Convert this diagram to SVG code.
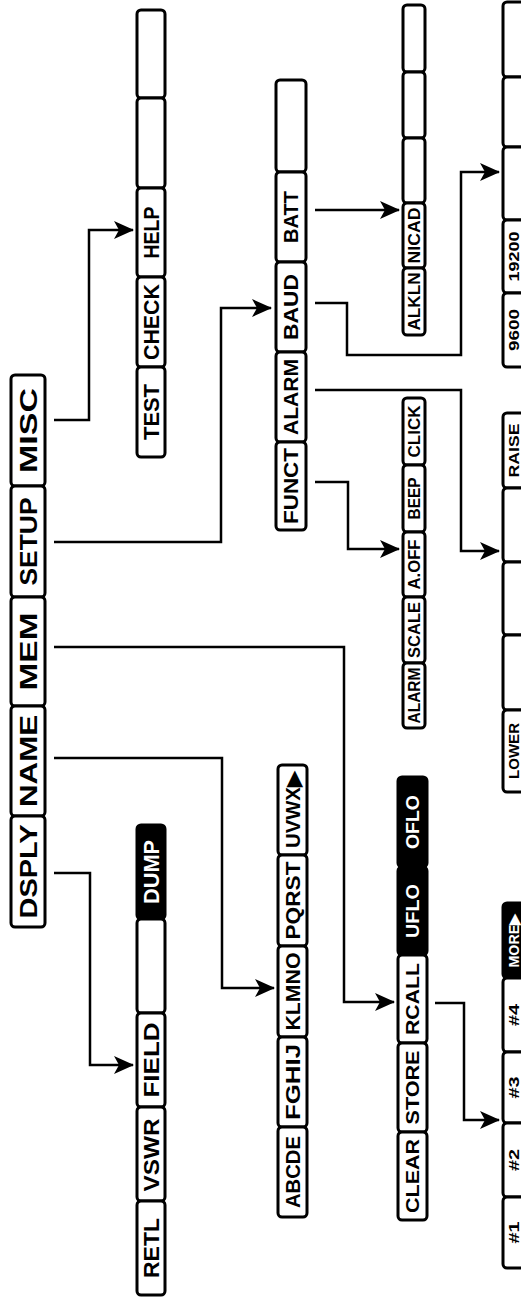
<svg xmlns="http://www.w3.org/2000/svg" width="521" height="1301" viewBox="0 0 521 1301">
<style>
.b{fill:#fff;stroke:#000;stroke-width:3}
.k{fill:#000;stroke:#000;stroke-width:3}
.t{font-family:"Liberation Sans",Arial,sans-serif;font-weight:bold;fill:#000;text-anchor:middle;dominant-baseline:central}
.w{fill:#fff}
.f1{font-size:24px}.f2{font-size:22px}.f3{font-size:20px}.f4{font-size:17px}.f5{font-size:19px}.f6{font-size:15px}
.c{fill:none;stroke:#000;stroke-width:2.5}
</style>
<defs>
<marker id="ah" viewBox="0 0 20 18" refX="19" refY="9" markerWidth="20" markerHeight="18" markerUnits="userSpaceOnUse" orient="auto">
<path d="M0,0 L20,9 L0,18 L5,9 Z" fill="#000"/>
</marker>
</defs>
<rect width="521" height="1301" fill="#fff"/>

<g id="main-menu">
<rect class="b" x="11" y="375" width="34" height="111" rx="4"/>
<rect class="b" x="11" y="486" width="34" height="111" rx="4"/>
<rect class="b" x="11" y="597" width="34" height="109" rx="4"/>
<rect class="b" x="11" y="706" width="34" height="110" rx="4"/>
<rect class="b" x="11" y="816" width="34" height="111" rx="4"/>
<text class="t f1" transform="translate(28,430.5) rotate(-90)" textLength="85" lengthAdjust="spacingAndGlyphs">MISC</text>
<text class="t f1" transform="translate(28,541.5) rotate(-90)" textLength="88" lengthAdjust="spacingAndGlyphs">SETUP</text>
<text class="t f1" transform="translate(28,651.5) rotate(-90)" textLength="78" lengthAdjust="spacingAndGlyphs">MEM</text>
<text class="t f1" transform="translate(28,761) rotate(-90)" textLength="92" lengthAdjust="spacingAndGlyphs">NAME</text>
<text class="t f1" transform="translate(28,871.5) rotate(-90)" textLength="94" lengthAdjust="spacingAndGlyphs">DSPLY</text>
</g>

<g id="misc-menu">
<rect class="b" x="137" y="10" width="28" height="88" rx="4"/>
<rect class="b" x="137" y="98" width="28" height="90" rx="4"/>
<rect class="b" x="137" y="188" width="28" height="89" rx="4"/>
<rect class="b" x="137" y="277" width="28" height="90" rx="4"/>
<rect class="b" x="137" y="367" width="28" height="90" rx="4"/>
<text class="t f2" transform="translate(151,232.5) rotate(-90)" textLength="52" lengthAdjust="spacingAndGlyphs">HELP</text>
<text class="t f2" transform="translate(151,322) rotate(-90)" textLength="76" lengthAdjust="spacingAndGlyphs">CHECK</text>
<text class="t f2" transform="translate(151,412) rotate(-90)" textLength="56" lengthAdjust="spacingAndGlyphs">TEST</text>
</g>

<g id="dsply-menu">
<rect class="k" x="137" y="825" width="28" height="94" rx="4"/>
<rect class="b" x="137" y="919" width="28" height="94" rx="4"/>
<rect class="b" x="137" y="1013" width="28" height="94" rx="4"/>
<rect class="b" x="137" y="1107" width="28" height="94" rx="4"/>
<rect class="b" x="137" y="1201" width="28" height="94" rx="4"/>
<text class="t f2 w" transform="translate(151,872) rotate(-90)" textLength="64" lengthAdjust="spacingAndGlyphs">DUMP</text>
<text class="t f2" transform="translate(151,1060) rotate(-90)" textLength="75" lengthAdjust="spacingAndGlyphs">FIELD</text>
<text class="t f2" transform="translate(151,1155) rotate(-90)" textLength="73" lengthAdjust="spacingAndGlyphs">VSWR</text>
<text class="t f2" transform="translate(151,1248) rotate(-90)" textLength="60" lengthAdjust="spacingAndGlyphs">RETL</text>
</g>

<g id="setup-menu">
<rect class="b" x="276" y="80" width="30" height="92" rx="4"/>
<rect class="b" x="276" y="172" width="30" height="90" rx="4"/>
<rect class="b" x="276" y="262" width="30" height="90" rx="4"/>
<rect class="b" x="276" y="352" width="30" height="90" rx="4"/>
<rect class="b" x="276" y="442" width="30" height="88" rx="4"/>
<text class="t f3" transform="translate(291,217) rotate(-90)" textLength="52" lengthAdjust="spacingAndGlyphs">BATT</text>
<text class="t f3" transform="translate(291,307) rotate(-90)" textLength="66" lengthAdjust="spacingAndGlyphs">BAUD</text>
<text class="t f3" transform="translate(291,397) rotate(-90)" textLength="76" lengthAdjust="spacingAndGlyphs">ALARM</text>
<text class="t f3" transform="translate(291,486) rotate(-90)" textLength="76" lengthAdjust="spacingAndGlyphs">FUNCT</text>
</g>

<g id="name-menu">
<rect class="b" x="278" y="765" width="29" height="90" rx="4"/>
<rect class="b" x="278" y="855" width="29" height="91" rx="4"/>
<rect class="b" x="278" y="946" width="29" height="91" rx="4"/>
<rect class="b" x="278" y="1037" width="29" height="90" rx="4"/>
<rect class="b" x="278" y="1127" width="29" height="90" rx="4"/>
<text class="t f3" transform="translate(292.5,810) rotate(-90)" textLength="76" lengthAdjust="spacingAndGlyphs">UVWX▶</text>
<text class="t f3" transform="translate(292.5,900.5) rotate(-90)" textLength="78" lengthAdjust="spacingAndGlyphs">PQRST</text>
<text class="t f3" transform="translate(292.5,991.5) rotate(-90)" textLength="78" lengthAdjust="spacingAndGlyphs">KLMNO</text>
<text class="t f3" transform="translate(292.5,1082) rotate(-90)" textLength="76" lengthAdjust="spacingAndGlyphs">FGHIJ</text>
<text class="t f3" transform="translate(292.5,1172) rotate(-90)" textLength="72" lengthAdjust="spacingAndGlyphs">ABCDE</text>
</g>

<g id="batt-menu">
<rect class="b" x="403" y="5" width="22" height="67" rx="4"/>
<rect class="b" x="403" y="72" width="22" height="66" rx="4"/>
<rect class="b" x="403" y="138" width="22" height="65" rx="4"/>
<rect class="b" x="403" y="203" width="22" height="65" rx="4"/>
<rect class="b" x="403" y="268" width="22" height="67" rx="4"/>
<text class="t f4" transform="translate(414,235.5) rotate(-90)" textLength="56" lengthAdjust="spacingAndGlyphs">NICAD</text>
<text class="t f4" transform="translate(414,301.5) rotate(-90)" textLength="58" lengthAdjust="spacingAndGlyphs">ALKLN</text>
</g>

<g id="funct-menu">
<rect class="b" x="403" y="398" width="22" height="67" rx="4"/>
<rect class="b" x="403" y="465" width="22" height="67" rx="4"/>
<rect class="b" x="403" y="532" width="22" height="65" rx="4"/>
<rect class="b" x="403" y="597" width="22" height="66" rx="4"/>
<rect class="b" x="403" y="663" width="22" height="65" rx="4"/>
<text class="t f4" transform="translate(414,431.5) rotate(-90)" textLength="52" lengthAdjust="spacingAndGlyphs">CLICK</text>
<text class="t f4" transform="translate(414,498.5) rotate(-90)" textLength="42" lengthAdjust="spacingAndGlyphs">BEEP</text>
<text class="t f4" transform="translate(414,564.5) rotate(-90)" textLength="50" lengthAdjust="spacingAndGlyphs">A.OFF</text>
<text class="t f4" transform="translate(414,630) rotate(-90)" textLength="56" lengthAdjust="spacingAndGlyphs">SCALE</text>
<text class="t f4" transform="translate(414,695.5) rotate(-90)" textLength="56" lengthAdjust="spacingAndGlyphs">ALARM</text>
</g>

<g id="mem-menu">
<rect class="k" x="398" y="777" width="29" height="90" rx="4"/>
<rect class="k" x="398" y="867" width="29" height="88" rx="4"/>
<rect class="b" x="398" y="955" width="29" height="88" rx="4"/>
<rect class="b" x="398" y="1043" width="29" height="89" rx="4"/>
<rect class="b" x="398" y="1132" width="29" height="88" rx="4"/>
<text class="t f5 w" transform="translate(412.5,822) rotate(-90)" textLength="54" lengthAdjust="spacingAndGlyphs">OFLO</text>
<text class="t f5 w" transform="translate(412.5,911) rotate(-90)" textLength="54" lengthAdjust="spacingAndGlyphs">UFLO</text>
<text class="t f5" transform="translate(412.5,999) rotate(-90)" textLength="72" lengthAdjust="spacingAndGlyphs">RCALL</text>
<text class="t f5" transform="translate(412.5,1087.5) rotate(-90)" textLength="74" lengthAdjust="spacingAndGlyphs">STORE</text>
<text class="t f5" transform="translate(412.5,1176) rotate(-90)" textLength="74" lengthAdjust="spacingAndGlyphs">CLEAR</text>
</g>

<g id="baud-menu">
<rect class="b" x="503" y="2" width="32" height="75" rx="4"/>
<rect class="b" x="503" y="77" width="32" height="70" rx="4"/>
<rect class="b" x="503" y="147" width="32" height="73" rx="4"/>
<rect class="b" x="503" y="220" width="32" height="73" rx="4"/>
<rect class="b" x="503" y="293" width="32" height="74" rx="4"/>
<text class="t f6" transform="translate(513,256.5) rotate(-90)" textLength="50" lengthAdjust="spacingAndGlyphs">19200</text>
<text class="t f6" transform="translate(513,330) rotate(-90)" textLength="42" lengthAdjust="spacingAndGlyphs">9600</text>
</g>

<g id="alarm-menu">
<rect class="b" x="503" y="413" width="32" height="75" rx="4"/>
<rect class="b" x="503" y="488" width="32" height="74" rx="4"/>
<rect class="b" x="503" y="562" width="32" height="73" rx="4"/>
<rect class="b" x="503" y="635" width="32" height="75" rx="4"/>
<rect class="b" x="503" y="710" width="32" height="82" rx="4"/>
<text class="t f6" transform="translate(513,450.5) rotate(-90)" textLength="54" lengthAdjust="spacingAndGlyphs">RAISE</text>
<text class="t f6" transform="translate(513,751) rotate(-90)" textLength="56" lengthAdjust="spacingAndGlyphs">LOWER</text>
</g>

<g id="rcall-menu">
<rect class="k" x="503" y="903" width="32" height="75" rx="4"/>
<rect class="b" x="503" y="978" width="32" height="74" rx="4"/>
<rect class="b" x="503" y="1052" width="32" height="71" rx="4"/>
<rect class="b" x="503" y="1123" width="32" height="74" rx="4"/>
<rect class="b" x="503" y="1197" width="32" height="71" rx="4"/>
<text class="t f6 w" transform="translate(513,940.5) rotate(-90)" textLength="54" lengthAdjust="spacingAndGlyphs">MORE▶</text>
<text class="t f6" transform="translate(513,1015) rotate(-90)" textLength="22" lengthAdjust="spacingAndGlyphs">#4</text>
<text class="t f6" transform="translate(513,1087.5) rotate(-90)" textLength="22" lengthAdjust="spacingAndGlyphs">#3</text>
<text class="t f6" transform="translate(513,1160) rotate(-90)" textLength="22" lengthAdjust="spacingAndGlyphs">#2</text>
<text class="t f6" transform="translate(513,1232.5) rotate(-90)" textLength="22" lengthAdjust="spacingAndGlyphs">#1</text>
</g>

<g id="connectors">
<path class="c" d="M54,420 H89 V230 H133" marker-end="url(#ah)"/>
<path class="c" d="M54,542 H221 V308 H271" marker-end="url(#ah)"/>
<path class="c" d="M54,647 H344 V1002 H394" marker-end="url(#ah)"/>
<path class="c" d="M54,758 H222 V988 H274" marker-end="url(#ah)"/>
<path class="c" d="M54,873 H90 V1065 H133" marker-end="url(#ah)"/>
<path class="c" d="M315,482 H348 V549 H399" marker-end="url(#ah)"/>
<path class="c" d="M315,390 H461 V551 H499" marker-end="url(#ah)"/>
<path class="c" d="M315,303 H347 V355 H461 V172 H499" marker-end="url(#ah)"/>
<path class="c" d="M315,210 H399" marker-end="url(#ah)"/>
<path class="c" d="M435,1003 H464 V1120 H499" marker-end="url(#ah)"/>
</g>
</svg>
